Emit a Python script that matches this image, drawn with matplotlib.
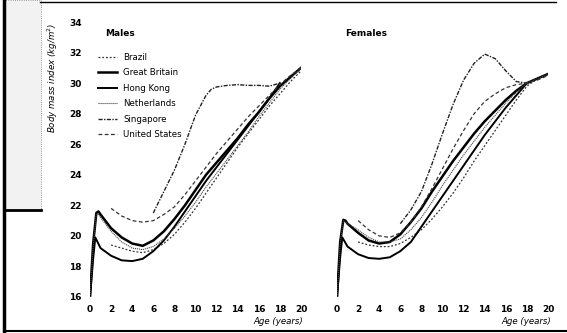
import matplotlib
matplotlib.use("Agg")
import matplotlib.pyplot as plt
from matplotlib.lines import Line2D
from matplotlib.patches import Rectangle
import numpy as np

countries = ["Brazil", "Great Britain", "Hong Kong", "Netherlands", "Singapore", "United States"]

# ages (years) and BMI values
age_0 = [0, 0.3, 0.6, 0.8, 1, 2, 3, 4, 5, 6, 7, 8, 9, 10, 11, 12, 13, 14, 15, 16, 17, 18, 19, 20]
age_2 = [2, 3, 4, 5, 6, 7, 8, 9, 10, 11, 12, 13, 14, 15, 16, 17, 18, 19, 20]
age_6 = [6, 7, 8, 9, 10, 11, 11.5, 12, 13, 14, 15, 16, 17, 18]
age_hk = [0, 0.3, 0.5, 1, 2, 3, 4, 5, 6, 7, 8, 9, 10, 11, 12, 13, 14, 15, 16, 17, 18]

males = {
    "Brazil": [19.4, 19.2, 19.0, 18.9, 19.1, 19.5, 20.1, 20.9, 21.8, 22.8, 23.8, 24.8,
               25.8, 26.7, 27.6, 28.5, 29.3, 30.1, 30.8],
    "Great Britain": [16.0, 19.5, 21.5, 21.6, 21.4, 20.5, 19.9, 19.5, 19.35, 19.7, 20.3, 21.1,
                      22.0, 23.0, 24.0, 24.8, 25.6, 26.4, 27.3, 28.1, 29.0, 29.8, 30.4, 31.0],
    "Hong Kong": [16.0, 18.5, 19.9, 19.2, 18.7, 18.4, 18.35, 18.5, 19.0, 19.7, 20.6, 21.6,
                  22.6, 23.6, 24.5, 25.4, 26.3, 27.2, 28.1, 29.0, 30.0],
    "Netherlands": [16.0, 19.3, 21.4, 21.4, 21.2, 20.3, 19.6, 19.2, 19.1, 19.3, 19.8, 20.5,
                    21.3, 22.2, 23.2, 24.1, 25.0, 25.9, 26.8, 27.8, 28.7, 29.6, 30.3, 31.0],
    "Singapore": [21.5, 22.9, 24.3, 26.0, 27.9, 29.2, 29.6, 29.75, 29.85, 29.9, 29.85, 29.85,
                  29.8, 30.0],
    "United States": [21.8, 21.3, 21.0, 20.9, 21.0, 21.4, 21.9, 22.7, 23.6, 24.5, 25.4, 26.2,
                      27.0, 27.8, 28.5, 29.2, 29.9, 30.5, 31.0],
}

females = {
    "Brazil": [19.6, 19.4, 19.3, 19.3, 19.5, 19.9, 20.4, 21.1, 21.9, 22.8, 23.8, 24.9,
               25.9, 26.9, 27.9, 28.9, 29.8, 30.3, 30.6],
    "Great Britain": [16.0, 19.6, 21.05, 21.0, 20.8, 20.2, 19.7, 19.5, 19.6, 20.1, 20.9, 21.8,
                      22.9, 23.9, 24.9, 25.8, 26.7, 27.5, 28.2, 28.9, 29.5, 30.0, 30.3, 30.6],
    "Hong Kong": [16.0, 18.6, 19.9, 19.3, 18.8, 18.55, 18.5, 18.6, 19.0, 19.6, 20.6, 21.6,
                  22.6, 23.6, 24.6, 25.6, 26.6, 27.5, 28.4, 29.2, 30.0],
    "Netherlands": [16.0, 19.4, 21.0, 20.9, 20.8, 20.4, 19.9, 19.6, 19.6, 19.8, 20.4, 21.2,
                    22.2, 23.3, 24.3, 25.3, 26.2, 27.1, 27.9, 28.7, 29.4, 30.0, 30.3, 30.6],
    "Singapore": [20.8, 21.7, 22.9, 24.7, 26.7, 28.6, 29.4, 30.2, 31.3, 31.9, 31.6, 30.8,
                  30.1, 30.0],
    "United States": [21.0, 20.4, 20.0, 19.9, 20.2, 20.9, 21.9, 23.1, 24.4, 25.7, 26.9, 28.0,
                      28.8, 29.3, 29.7, 29.9, 30.0, 30.2, 30.5],
}

ages = {"Brazil": age_2, "Great Britain": age_0, "Hong Kong": age_hk,
        "Netherlands": age_0, "Singapore": age_6, "United States": age_2}

styles = {
    "Brazil": dict(color="#333333", lw=0.9, ls=(0, (1.5, 1.5))),
    "Great Britain": dict(color="black", lw=1.8, ls="-"),
    "Hong Kong": dict(color="black", lw=1.4, ls="-"),
    "Netherlands": dict(color="#444444", lw=0.8, ls=(0, (1, 0.8))),
    "Singapore": dict(color="#222222", lw=1.0, ls=(0, (3, 1, 1, 1))),
    "United States": dict(color="#333333", lw=0.9, ls=(0, (3, 2))),
}

fig = plt.figure(figsize=(5.67, 3.33), dpi=100)
W, H = 567, 333

def fx(px):
    return px / W

def fy(py):
    return 1 - py / H

ax_m = fig.add_axes([fx(90), fy(297), fx(211), fy(22) - fy(297)])
ax_f = fig.add_axes([fx(337), fy(297), fx(211), fy(22) - fy(297)])

for ax, data, title, tx in [(ax_m, males, "Males", 105), (ax_f, females, "Females", 345)]:
    for c in countries:
        ax.plot(ages[c], data[c], label=c, **styles[c])
    ax.set_xlim(0, 20)
    ax.set_ylim(16, 34)
    ax.set_xticks(np.arange(0, 21, 2))
    ax.set_yticks(np.arange(16, 35, 2))
    for s in ax.spines.values():
        s.set_visible(False)
    ax.tick_params(length=0, labelsize=6.5, pad=6)
    for lab in ax.get_xticklabels() + ax.get_yticklabels():
        lab.set_fontweight("bold")
    ax.patch.set_alpha(0)
    fig.text(fx(tx), fy(34), title, fontsize=6.5, fontweight="bold", va="center")

ax_f.set_yticklabels([])

ax_m.legend(loc="upper left", bbox_to_anchor=(0.02, 0.90), frameon=False, fontsize=6.2,
            handlelength=2.2, labelspacing=0.75, handletextpad=0.8, borderaxespad=0)

fig.text(fx(53), fy(78), "Body mass index (kg/m$^2$)", rotation=90, fontsize=6.2,
         style="italic", ha="center", va="center")
fig.text(fx(303), fy(322), "Age (years)", fontsize=6.2, style="italic", ha="right", va="center")
fig.text(fx(551), fy(322), "Age (years)", fontsize=6.2, style="italic", ha="right", va="center")

# scanned page frame
fig.add_artist(Rectangle((fx(5), fy(210)), fx(36), 1 - fy(210), transform=fig.transFigure,
                         facecolor="#f2f2f2", edgecolor="#777777", lw=0.6, ls=":"))
fig.add_artist(Line2D([fx(5), fx(41)], [fy(210), fy(210)], color="black", lw=2))
fig.add_artist(Line2D([fx(4), fx(4)], [0, 1], color="black", lw=2.5))
fig.add_artist(Line2D([fx(40), fx(556)], [fy(2), fy(2)], color="black", lw=1))
fig.add_artist(Line2D([fx(4), fx(567)], [fy(331), fy(331)], color="black", lw=1.5))

fig.savefig("out.png", dpi=100)
